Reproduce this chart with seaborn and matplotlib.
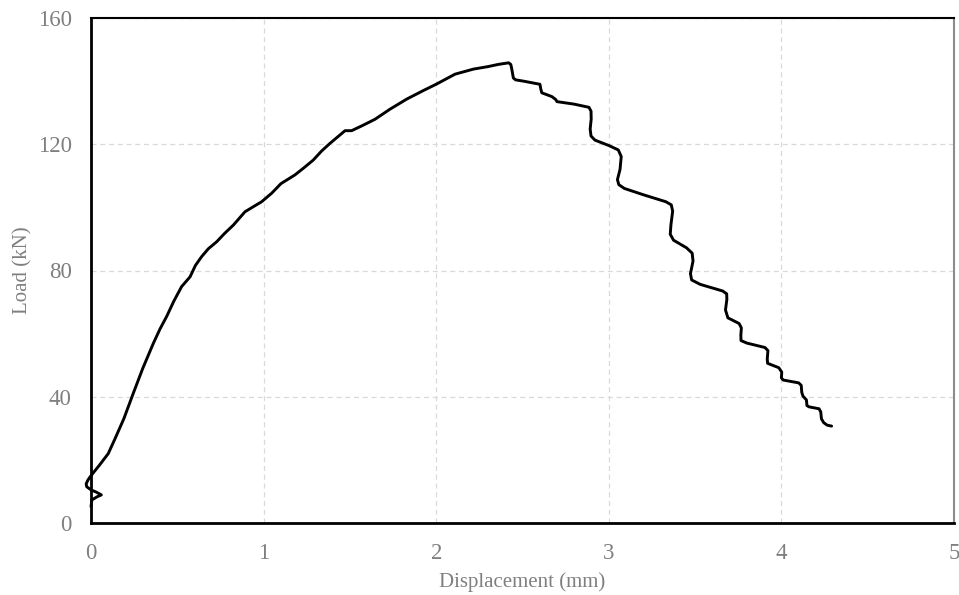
import matplotlib
matplotlib.use("Agg")
import matplotlib.pyplot as plt
import seaborn as sns
import pandas as pd

displacement = [0.0, 0.005, 0.035, 0.06, 0.03, 0.0, -0.025, -0.028, -0.018, 0.0, 0.05, 0.10, 0.14, 0.19, 0.245, 0.30, 0.361, 0.40, 0.438, 0.48, 0.525, 0.574, 0.605, 0.641, 0.68, 0.728, 0.775, 0.825, 0.892, 0.94, 0.989, 1.047, 1.10, 1.182, 1.235, 1.288, 1.335, 1.385, 1.472, 1.510, 1.568, 1.645, 1.732, 1.829, 1.925, 2.003, 2.109, 2.215, 2.300, 2.360, 2.420, 2.432, 2.437, 2.447, 2.46, 2.505, 2.601, 2.606, 2.612, 2.67, 2.692, 2.70, 2.80, 2.885, 2.897, 2.898, 2.892, 2.897, 2.92, 3.00, 3.055, 3.072, 3.065, 3.050, 3.058, 3.09, 3.20, 3.33, 3.362, 3.370, 3.360, 3.356, 3.375, 3.45, 3.483, 3.488, 3.473, 3.480, 3.53, 3.66, 3.683, 3.684, 3.676, 3.69, 3.755, 3.768, 3.765, 3.766, 3.80, 3.905, 3.922, 3.918, 3.92, 3.985, 4.002, 4.000, 4.01, 4.10, 4.115, 4.118, 4.125, 4.145, 4.148, 4.16, 4.218, 4.228, 4.232, 4.245, 4.265, 4.291]
load = [5.2, 7.3, 8.3, 8.9, 9.8, 10.5, 11.5, 12.4, 13.6, 15.0, 18.4, 22.0, 26.8, 33.0, 41.1, 49.0, 56.9, 61.5, 65.4, 70.3, 74.9, 78.0, 81.6, 84.4, 86.9, 89.1, 91.8, 94.4, 98.6, 100.2, 101.8, 104.5, 107.5, 110.3, 112.6, 115.0, 117.8, 120.3, 124.3, 124.3, 125.8, 127.9, 131.1, 134.3, 137.0, 139.1, 142.2, 143.8, 144.6, 145.3, 145.8, 145.3, 144.1, 141.0, 140.4, 140.0, 139.0, 137.5, 136.3, 135.1, 134.2, 133.5, 132.7, 131.7, 130.5, 128.0, 124.8, 122.6, 121.3, 119.6, 118.2, 116.1, 112.0, 108.8, 107.2, 106.0, 104.0, 101.8, 100.8, 98.8, 94.5, 91.5, 89.6, 87.2, 85.5, 83.0, 79.0, 77.0, 75.6, 73.5, 72.6, 70.8, 67.5, 65.0, 63.2, 61.8, 59.5, 57.8, 57.0, 55.6, 54.6, 52.0, 50.6, 49.2, 47.8, 46.0, 45.3, 44.4, 43.6, 41.4, 40.2, 39.0, 37.2, 36.8, 36.2, 35.2, 33.0, 31.8, 31.0, 30.7]

xticks = [0, 1, 2, 3, 4, 5]
yticks = [0, 40, 80, 120, 160]
xlabel = "Displacement (mm)"
ylabel = "Load (kN)"

df = pd.DataFrame({"Displacement": displacement, "Load": load})

sns.set_theme(style="white")
plt.rcParams['font.family'] = ['Liberation Serif', 'DejaVu Serif']

fig = plt.figure(figsize=(9.59, 5.95), dpi=100)
ax = fig.add_axes([91/959, 72/595, (954-91)/959, (523-18)/595])

sns.lineplot(data=df, x="Displacement", y="Load", sort=False, estimator=None,
             color="black", linewidth=2.1, ax=ax)
for ln in ax.get_lines():
    ln.set_solid_joinstyle("round")
    ln.set_solid_capstyle("round")
    ln.set_clip_on(False)
    ln.set_zorder(5)

ax.set_xlim(0, 5)
ax.set_ylim(0, 160)
ax.set_xticks(xticks)
ax.set_yticks(yticks)
ax.set_xticklabels([str(t) for t in xticks])
ax.set_yticklabels([str(t) for t in yticks])
ax.grid(True, color="#d9d9d9", linestyle=(0, (4, 3)), linewidth=0.9)
ax.set_axisbelow(True)

grey = "#7f7f7f"
ax.tick_params(axis="both", length=0, labelsize=16.5, labelcolor=grey)
ax.tick_params(axis="x", pad=14.5)
ax.tick_params(axis="y", pad=14)
ax.set_xlabel(xlabel, fontsize=15, color=grey, labelpad=6)
ax.set_ylabel(ylabel, fontsize=15, color=grey, labelpad=4)

for side in ["left", "bottom", "top"]:
    ax.spines[side].set_color("black")
ax.spines["left"].set_linewidth(2.0)
ax.spines["bottom"].set_linewidth(2.0)
ax.spines["top"].set_linewidth(1.5)
ax.spines["right"].set_color("#8c8c8c")
ax.spines["right"].set_linewidth(1.5)

fig.savefig("out.png", dpi=100)
